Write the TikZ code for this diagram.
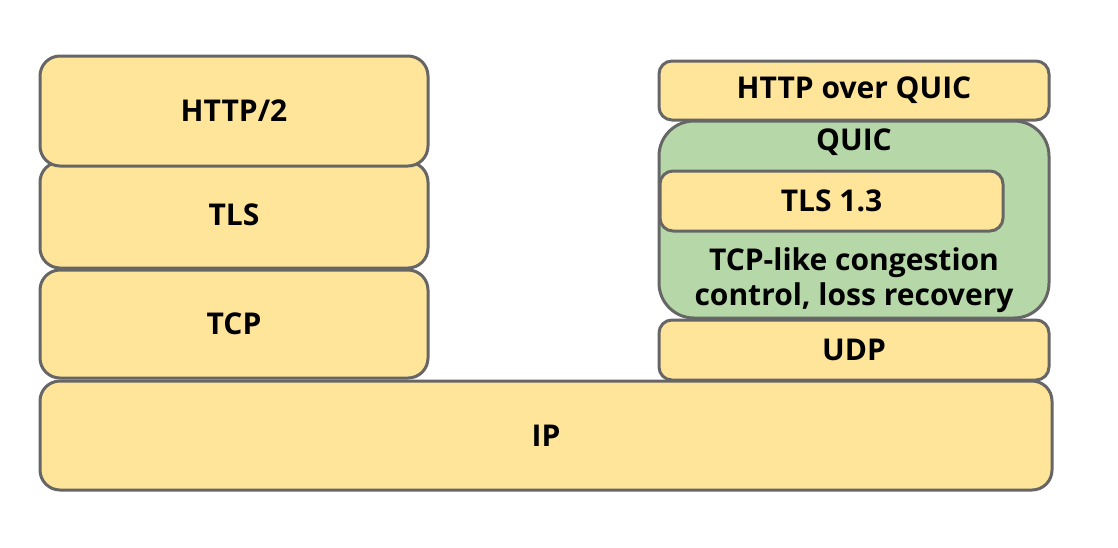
\documentclass[tikz,border=0pt]{standalone}
\usepackage{fontspec}
\setmainfont{Open Sans}
\definecolor{layerfill}{HTML}{FFE599}
\definecolor{quicfill}{HTML}{B6D7A8}
\definecolor{edgegray}{HTML}{666666}

\begin{document}
\begin{tikzpicture}[x=1pt, y=-1pt,
				line join=round, line cap=round,
				every node/.style = {inner sep=0pt, outer sep=0pt, font=\fontsize{30}{36}\selectfont\bfseries},
				layer/.style = {draw=edgegray, line width=3pt, fill=layerfill, rounded corners=20pt},
				thin layer/.style = {layer, rounded corners=13pt, minimum height=59pt}
				]
				\useasboundingbox (0,0) rectangle (1118,547);
				% TCP stack
				\node[layer, minimum width=388pt, minimum height=106pt] (tls) at (234,215) {TLS};
				\node[layer, minimum width=388pt, minimum height=110pt] (http2) at (234,111) {HTTP/2};
				\node[layer, minimum width=388pt, minimum height=108pt] (tcp) at (234,324) {TCP};
				\node[layer, minimum width=1012pt, minimum height=109pt] (ip) at (546,435.5) {IP};
				% QUIC stack
				\node[thin layer, minimum width=390pt] (hoq) at (854,90.5) {\raisebox{-2pt}{HTTP over QUIC}};
				\node[layer, fill=quicfill, rounded corners=35pt, minimum width=390pt, minimum height=197pt] (quic) at (854,219.5) {};
				\node (quiclabel) at (854,142) {QUIC};
				\node[thin layer, minimum width=343pt, minimum height=60pt] (tls13) at (831.5,201) {TLS 1.3};
				\node[align=center, font=\fontsize{30}{35}\selectfont\bfseries] (cc) at (854,280) {TCP-like congestion\\control, loss recovery};
				\node[thin layer, minimum width=390pt, minimum height=60pt] (udp) at (854,350) {UDP};
\end{tikzpicture}
\end{document}
